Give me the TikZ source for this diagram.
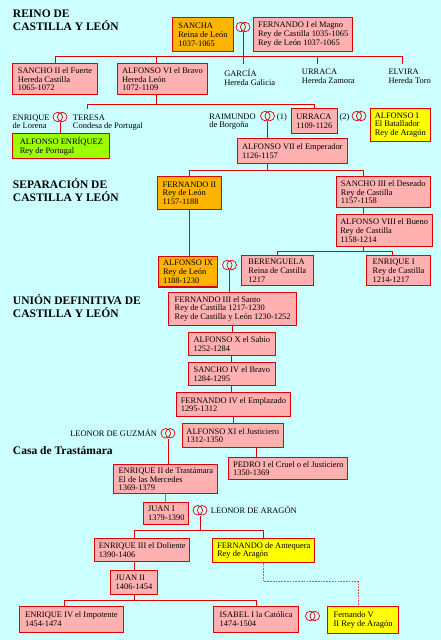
\documentclass[tikz,border=0pt]{standalone}
\usepackage{fontspec}
\setmainfont{Liberation Serif}
\usepackage{tikz}
\usepackage{xcolor}
\definecolor{fondo}{RGB}{204,255,255}
\definecolor{rosa}{RGB}{255,176,176}
\definecolor{rojo}{RGB}{224,0,0}
\definecolor{naranja}{RGB}{255,180,0}
\definecolor{amarillo}{RGB}{255,255,0}
\definecolor{verde}{RGB}{155,255,0}
\definecolor{punteado}{RGB}{205,90,90}
\newcommand{\letracaja}{\fontsize{6}{6.2}\selectfont}
\newcommand{\letratitulo}{\fontsize{8.2}{9}\selectfont\bfseries}

\begin{document}
\begin{tikzpicture}[x=0.025cm, y=-0.025cm,
  caja/.style={rectangle, draw=rojo, line width=0.8pt, fill=rosa, font=\letracaja,
    align=left, inner xsep=3pt, inner ysep=1pt, anchor=north west},
  cajaleon/.style={caja, fill=naranja},
  cajaaragon/.style={caja, fill=amarillo},
  cajaportugal/.style={caja, fill=verde},
  texto/.style={font=\letracaja, align=left, inner xsep=0pt, inner ysep=3.5pt, anchor=north west},
  suelto/.style={font=\letracaja, inner sep=0pt, anchor=base west},
  titulo/.style={font=\letratitulo, align=left, inner sep=0pt, anchor=north west},
  anillos/.style={minimum width=0.38cm, minimum height=0.26cm, inner sep=0pt,
    path picture={
      \draw[rojo, line width=0.5pt] ([xshift=-0.055cm]path picture bounding box.center) circle[radius=0.12cm];
      \draw[rojo, line width=0.5pt] ([xshift=0.055cm]path picture bounding box.center) circle[radius=0.12cm];}},
  linea/.style={draw=rojo, line width=0.6pt},
  lineagris/.style={draw=gray, line width=0.6pt},
  punteada/.style={draw=punteado, line width=0.6pt, dash pattern=on 1.2pt off 0.8pt}]
\fill[fondo] (0,0) rectangle (441,640);
\useasboundingbox (0,0) rectangle (441,640);

% titulos
\node[titulo] (reino) at (12.7,10) {REINO DE\\CASTILLA Y LEÓN};
\node[titulo] (separacion) at (12.7,178.3) {SEPARACIÓN DE\\CASTILLA Y LEÓN};
\node[titulo] (union) at (12.7,294.3) {UNIÓN DEFINITIVA DE\\CASTILLA Y LEÓN};
\node[titulo, anchor=base west] (trastamara) at (12.7,454.3) {Casa de Trastámara};

% Fernando I y Sancha
\node[cajaleon, minimum width=1.52cm, minimum height=0.835cm] (sancha) at (172,17.3) {SANCHA\\Reina de León\\1037-1065};
\node[anillos] (anillo1) at (243,27) {};
\node[caja, minimum width=2.42cm, minimum height=0.835cm] (fernando1) at (253.3,17.3) {FERNANDO I el Magno\\Rey de Castilla 1035-1065\\Rey de León 1037-1065};

\node[caja, minimum width=2.11cm, minimum height=0.77cm] (sancho2) at (12.3,63.3) {SANCHO II el Fuerte\\Hereda Castilla\\1065-1072};
\node[caja, minimum width=2.175cm, minimum height=0.77cm] (alfonso6) at (117.3,63.3) {ALFONSO VI el Bravo\\Hereda León\\1072-1109};
\node[texto] (garcia) at (224,64) {GARCÍA\\Hereda Galicia};
\node[texto] (urracaz) at (301.7,64) {URRACA\\Hereda Zamora};
\node[texto] (elvira) at (388.3,64) {ELVIRA\\Hereda Toro};

\draw[linea] (anillo1.south) -- (anillo1.south |- garcia.north);
\draw[linea] (sancho2.north) -- ++(0,-6.6) coordinate (barra1) -| ([xshift=10.2pt]elvira.north west);
\draw[linea] ([xshift=-4pt]alfonso6.north) -- ++(0,-6.6);
\draw[linea] ([xshift=11.3pt]urracaz.north west) -- ++(0,-7.3);

% hijos de Alfonso VI
\node[texto] (enrique) at (12.3,109.3) {ENRIQUE\\de Lorena};
\node[anillos] (anillo2) at (60,117) {};
\node[texto] (teresa) at (72.7,109.3) {TERESA\\Condesa de Portugal};
\node[texto] (raimundo) at (209,108.3) {RAIMUNDO\\de Borgoña};
\node[anillos] (anillo3) at (267.5,116) {};
\node[suelto] (uno) at (276.7,119) {(1)};
\node[caja, minimum width=1.14cm, minimum height=0.625cm] (urraca) at (291,108.3) {URRACA\\1109-1126};
\node[suelto] (dos) at (339.3,119) {(2)};
\node[anillos] (anillo4) at (359,116) {};
\node[cajaaragon, minimum width=1.36cm, minimum height=0.81cm] (alfonso1) at (370,108.3) {ALFONSO I\\El Batallador\\Rey de Aragón};
\node[cajaportugal, minimum width=2.425cm, minimum height=0.625cm] (enriquez) at (12.3,133.3) {ALFONSO ENRÍQUEZ\\Rey de Portugal};

\draw[linea] ([xshift=-4pt]alfonso6.south) -- ++(0,9.3) coordinate (barra2) -| (urraca.north);
\draw[linea] (barra2) -| ([xshift=10.4pt]teresa.north west);
\draw[linea] (anillo2.south) -- (anillo2.south |- enriquez.north);

% Alfonso VII y la separacion
\node[caja, minimum width=2.75cm, minimum height=0.625cm] (alfonso7) at (236.7,138.3) {ALFONSO VII el Emperador\\1126-1157};
\node[cajaleon, minimum width=1.61cm, minimum height=0.83cm] (fernando2) at (156.7,176) {FERNANDO II\\Rey de León\\1157-1188};
\node[caja, minimum width=2.36cm, minimum height=0.78cm] (sancho3) at (335.5,176) {SANCHO III el Deseado\\Rey de Castilla\\1157-1158};
\node[caja, minimum width=2.36cm, minimum height=0.8cm] (alfonso8) at (335.5,214) {ALFONSO VIII el Bueno\\Rey de Castilla\\1158-1214};

\draw[linea] (anillo3.south) -- (anillo3.south |- alfonso7.north);
\draw[linea] (anillo3.south |- alfonso7.south) -- ++(0,6) coordinate (barra3) -| (fernando2.north);
\draw[linea] (barra3) -| ([xshift=20pt]sancho3.north west);
\draw[linea] ([xshift=20pt]sancho3.south west) -- ++(0,6.7);

\node[cajaleon, minimum width=1.46cm, minimum height=0.76cm] (alfonso9) at (158.3,256) {ALFONSO IX\\Rey de León\\1188-1230};
\node[anillos] (anillo5) at (229.5,265) {};
\node[caja, minimum width=1.8cm, minimum height=0.75cm] (berenguela) at (240.7,255) {BERENGUELA\\Reina de Castilla\\1217};
\node[caja, minimum width=1.61cm, minimum height=0.75cm] (enrique1) at (365.7,255) {ENRIQUE I\\Rey de Castilla\\1214-1217};

\draw[linea] (fernando2.south) -- (fernando2.south |- alfonso9.north);
\draw[linea] ([xshift=20pt]alfonso8.south west) -- ++(0,4) coordinate (barra4) -| (berenguela.north);
\draw[linea] (barra4) -| ([xshift=-4pt]enrique1.north);

% union definitiva
\node[caja, minimum width=3.19cm, minimum height=0.83cm] (fernando3) at (168.3,291.7) {FERNANDO III el Santo\\Rey de Castilla 1217-1230\\Rey de Castilla y León 1230-1252};
\node[caja, minimum width=2.18cm, minimum height=0.57cm] (alfonso10) at (187.7,332.3) {ALFONSO X el Sabio\\1252-1284};
\node[caja, minimum width=2.18cm, minimum height=0.58cm] (sancho4) at (187.7,361.7) {SANCHO IV el Bravo\\1284-1295};
\node[caja, minimum width=2.77cm, minimum height=0.59cm] (fernando4) at (176,392.3) {FERNANDO IV el Emplazado\\1295-1312};
\node[caja, minimum width=2.44cm, minimum height=0.585cm] (alfonso11) at (181.7,423.3) {ALFONSO XI el Justiciero\\1312-1350};
\node[caja, minimum width=2.935cm, minimum height=0.565cm] (pedro1) at (228.3,456.7) {PEDRO I el Cruel o el Justiciero\\1350-1369};

\draw[linea] (anillo5.south) -- (anillo5.south |- fernando3.north);
\foreach \a/\b in {fernando3/alfonso10, alfonso10/sancho4, sancho4/fernando4, fernando4/alfonso11}
  \draw[linea] (\a.south) -- (\a.south |- \b.north);
\draw[linea] ([xshift=20pt]pedro1.north west) -- ++(0,-10);

% Trastamara
\node[suelto] (guzman) at (70,436) {LEONOR DE GUZMÁN};
\node[anillos] (anillo6) at (168,433.3) {};
\node[caja, minimum width=2.6cm, minimum height=0.725cm] (enrique2) at (113.3,464.3) {ENRIQUE II de Trastámara\\El de las Mercedes\\1369-1379};
\node[caja, minimum width=1.125cm, minimum height=0.565cm] (juan1) at (143.3,501.7) {JUAN I\\1379-1390};
\node[anillos] (anillo7) at (200,510.3) {};
\node[suelto] (aragon) at (210.7,513.3) {LEONOR DE ARAGÓN};
\node[caja, minimum width=2.34cm, minimum height=0.56cm] (enrique3) at (94,538.3) {ENRIQUE III el Doliente\\1390-1406};
\node[cajaaragon, minimum width=2.485cm, minimum height=0.585cm] (antequera) at (212.3,538.3) {FERNANDO de Antequera\\Rey de Aragón};
\node[caja, minimum width=1.17cm, minimum height=0.6cm] (juan2) at (110,570) {JUAN II\\1406-1454};
\node[caja, minimum width=2.59cm, minimum height=0.64cm] (enrique4) at (19,606) {ENRIQUE IV el Impotente\\1454-1474};
\node[caja, minimum width=2.11cm, minimum height=0.64cm] (isabel) at (213.3,606) {ISABEL I la Católica\\1474-1504};
\node[anillos] (anillo8) at (312.5,616) {};
\node[cajaaragon, minimum width=1.76cm, minimum height=0.68cm] (fernando5) at (327.3,606) {Fernando V\\II Rey de Aragón};

\draw[linea] (anillo6.south) -- (anillo6.south |- enrique2.north);
\draw[lineagris] (enrique2.south) -- (enrique2.south |- juan1.north);
\draw[linea] ([xshift=-5.3pt]enrique3.north) -- ++(0,-8.3) coordinate (barra5) -| (antequera.north);
\draw[linea] (anillo7.south) -- (anillo7.south |- barra5);
\draw[linea] ([xshift=-5.3pt]enrique3.south) -- ++(0,9.3);
\draw[linea] (juan2.south) -- ++(0,5.3) coordinate (barra6) -| ([xshift=-4.6pt]enrique4.north);
\draw[linea] (barra6) -| (isabel.north);
\draw[punteada] (antequera.south) -- ++(0,19) -| ([xshift=-3.4pt]fernando5.north);
\end{tikzpicture}
\end{document}
